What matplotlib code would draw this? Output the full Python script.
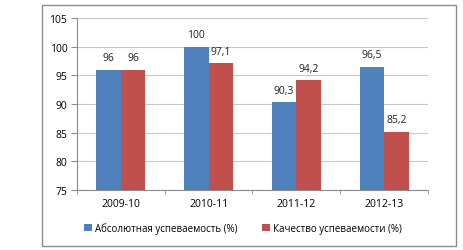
import numpy as np
import matplotlib.pyplot as plt
from matplotlib.patches import Rectangle

plt.rcParams['font.family'] = ['Open Sans', 'DejaVu Sans']

years = ["2009-10", "2010-11", "2011-12", "2012-13"]
absolute = [96, 100, 90.3, 96.5]
quality = [96, 97.1, 94.2, 85.2]
labels_abs = ["96", "100", "90,3", "96,5"]
labels_q = ["96", "97,1", "94,2", "85,2"]

fig = plt.figure(figsize=(4.64, 2.51), dpi=100)
# outer frame
fig.patches.append(Rectangle((42 / 464, 1 - 247 / 251), (456 - 42) / 464, (247 - 6) / 251,
                             transform=fig.transFigure, fill=False, edgecolor="#8c8c8c", lw=1.0))

ax = fig.add_axes([77 / 464, 1 - 191 / 251, (428 - 77) / 464, (191 - 19) / 251])

x = np.arange(len(years))
w = 0.28
b1 = ax.bar(x - w / 2, absolute, w, color="#4f81bd", label="Абсолютная успеваемость (%)", zorder=3)
b2 = ax.bar(x + w / 2, quality, w, color="#c0504d", label="Качество успеваемости (%)", zorder=3)

for rect, t in zip(b1, labels_abs):
    ax.text(rect.get_x() + rect.get_width() / 2, rect.get_height() + 1.1, t,
            ha="center", va="bottom", fontsize=7.5, color="#222222")
for rect, t in zip(b2, labels_q):
    ax.text(rect.get_x() + rect.get_width() / 2, rect.get_height() + 1.1, t,
            ha="center", va="bottom", fontsize=7.5, color="#222222")

ax.set_ylim(75, 105)
ax.set_xlim(-0.5, 3.5)
ax.set_yticks(range(75, 106, 5))
ax.set_xticks(x)
ax.set_xticklabels(years)
ax.set_xticks(np.arange(-0.5, 4, 1), minor=True)
ax.tick_params(axis="x", which="major", length=0, labelsize=7.5, pad=6)
ax.tick_params(axis="x", which="minor", length=3, color="#8c8c8c")
ax.tick_params(axis="y", length=4, labelsize=7.5, color="#8c8c8c", pad=3)
ax.grid(axis="y", color="#c8c8c8", lw=0.8, zorder=0)
for s in ["top", "right"]:
    ax.spines[s].set_visible(False)
for s in ["left", "bottom"]:
    ax.spines[s].set_color("#8c8c8c")
    ax.spines[s].set_linewidth(0.8)

fig.legend(loc="center", bbox_to_anchor=(243 / 464, 1 - 229 / 251), ncol=2, frameon=False,
           fontsize=7, handlelength=0.75, handleheight=0.75, handletextpad=0.3, columnspacing=2.6)

fig.savefig("out.png", dpi=100)
